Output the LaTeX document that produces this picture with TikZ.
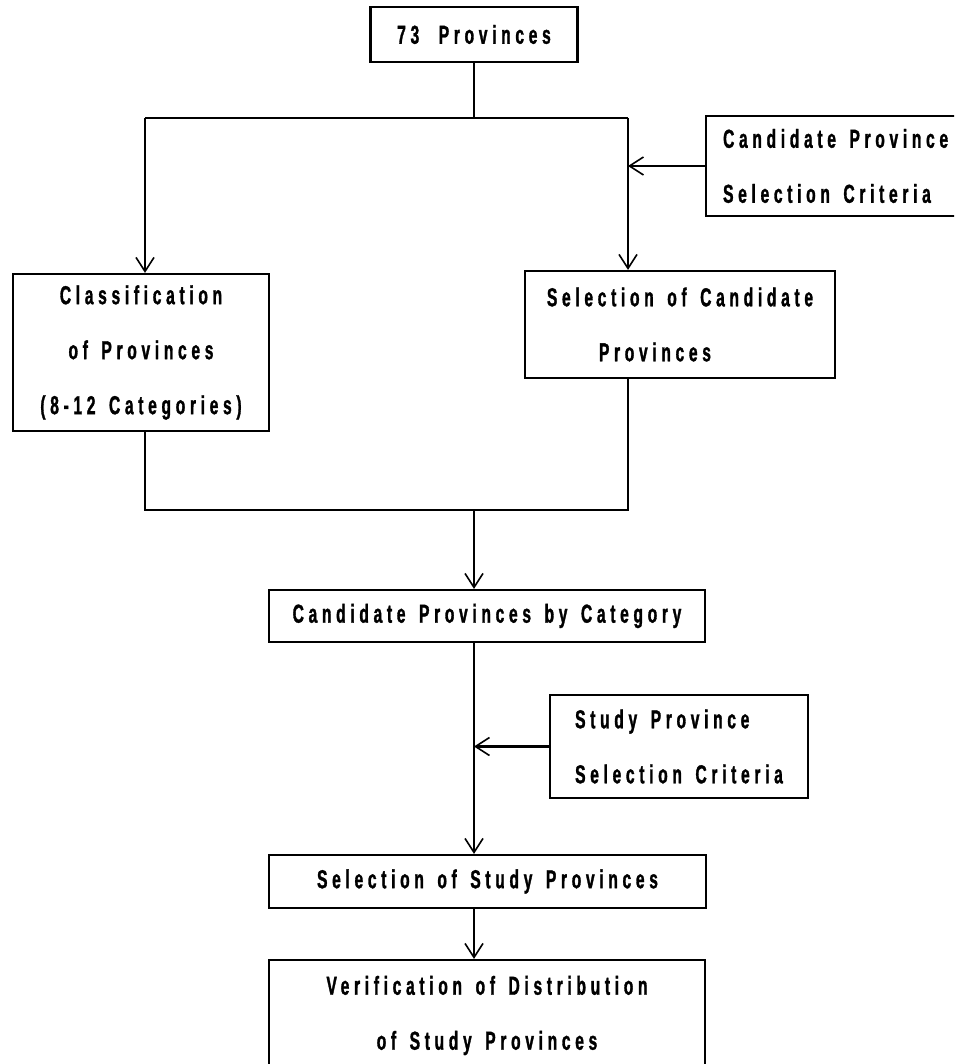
\documentclass[tikz,border=0pt]{standalone}
\usepackage{fontspec}
\usetikzlibrary{arrows.meta}
% condensed, widely tracked heavy sans for all labels
\newfontfamily\chartfont{Liberation Sans}[UprightFont={* Bold},FakeStretch=0.60,FakeBold=1.2,LetterSpace=18,WordSpace=1.5]
\tikzset{
  box/.style={draw, line width=2.2pt, inner sep=0pt, align=center,
    font=\chartfont\fontsize{26}{55}\selectfont},
  link/.style={line width=2.2pt},
  arr/.style={link, -{Straight Barb[length=14pt,width=18pt,line width=1.6pt]}}
}
\begin{document}
\begin{tikzpicture}[x=1pt,y=-1pt]
\useasboundingbox (0,0) rectangle (954,1064);
\clip (0,0) rectangle (954,1064);

% boxes
\node[box, minimum width=207, minimum height=55] (top) at (474,34.5) {73\hspace{6pt} Provinces};
\node[box, anchor=west, inner xsep=17pt, minimum height=100, align=left] (crit1) at (705,166)
  {Candidate Province\\Selection Criteria};
\node[box, minimum width=256, minimum height=157] (classif) at (141,352.5)
  {Classification\\of Provinces\\(8-12 Categories)};
\node[box, minimum width=310, minimum height=107, align=left] (selcand) at (680,324.5)
  {Selection of Candidate\\\hspace*{52pt}Provinces};
\node[box, minimum width=436, minimum height=52] (catbox) at (487,616)
  {Candidate Provinces by Category};
\node[box, minimum width=258, minimum height=103, align=left] (crit2) at (679,746.5)
  {Study Province\\Selection Criteria};
\node[box, minimum width=437, minimum height=53] (selstudy) at (487.5,881.5)
  {Selection of Study Provinces};
\node[box, minimum width=436, minimum height=111] (verif) at (487,1015.5)
  {Verification of Distribution\\of Study Provinces};

% junction points
\coordinate (split) at (474,118);
\coordinate (lsplit) at (145,118);
\coordinate (rsplit) at (628,118);
\coordinate (ljoin) at (145,510);
\coordinate (rjoin) at (628,510);
\coordinate (mjoin) at (474,510);

% connectors
\draw[link] (top.south) -- (split);
\draw[link] (lsplit) -- (rsplit);
\draw[arr] (lsplit) -- (lsplit |- classif.north);
\draw[arr] (rsplit) -- (rsplit |- selcand.north);
\draw[arr] (crit1.west) -- (crit1.west -| rsplit);
\draw[link] (classif.south -| ljoin) -- (ljoin) -- (rjoin) -- (selcand.south -| rjoin);
\draw[arr] (mjoin) -- (mjoin |- catbox.north);
\draw[arr] (catbox.south -| mjoin) -- (mjoin |- selstudy.north);
\draw[arr] (crit2.west) -- (crit2.west -| mjoin);
\draw[arr] (selstudy.south -| mjoin) -- (mjoin |- verif.north);
\end{tikzpicture}
\end{document}
